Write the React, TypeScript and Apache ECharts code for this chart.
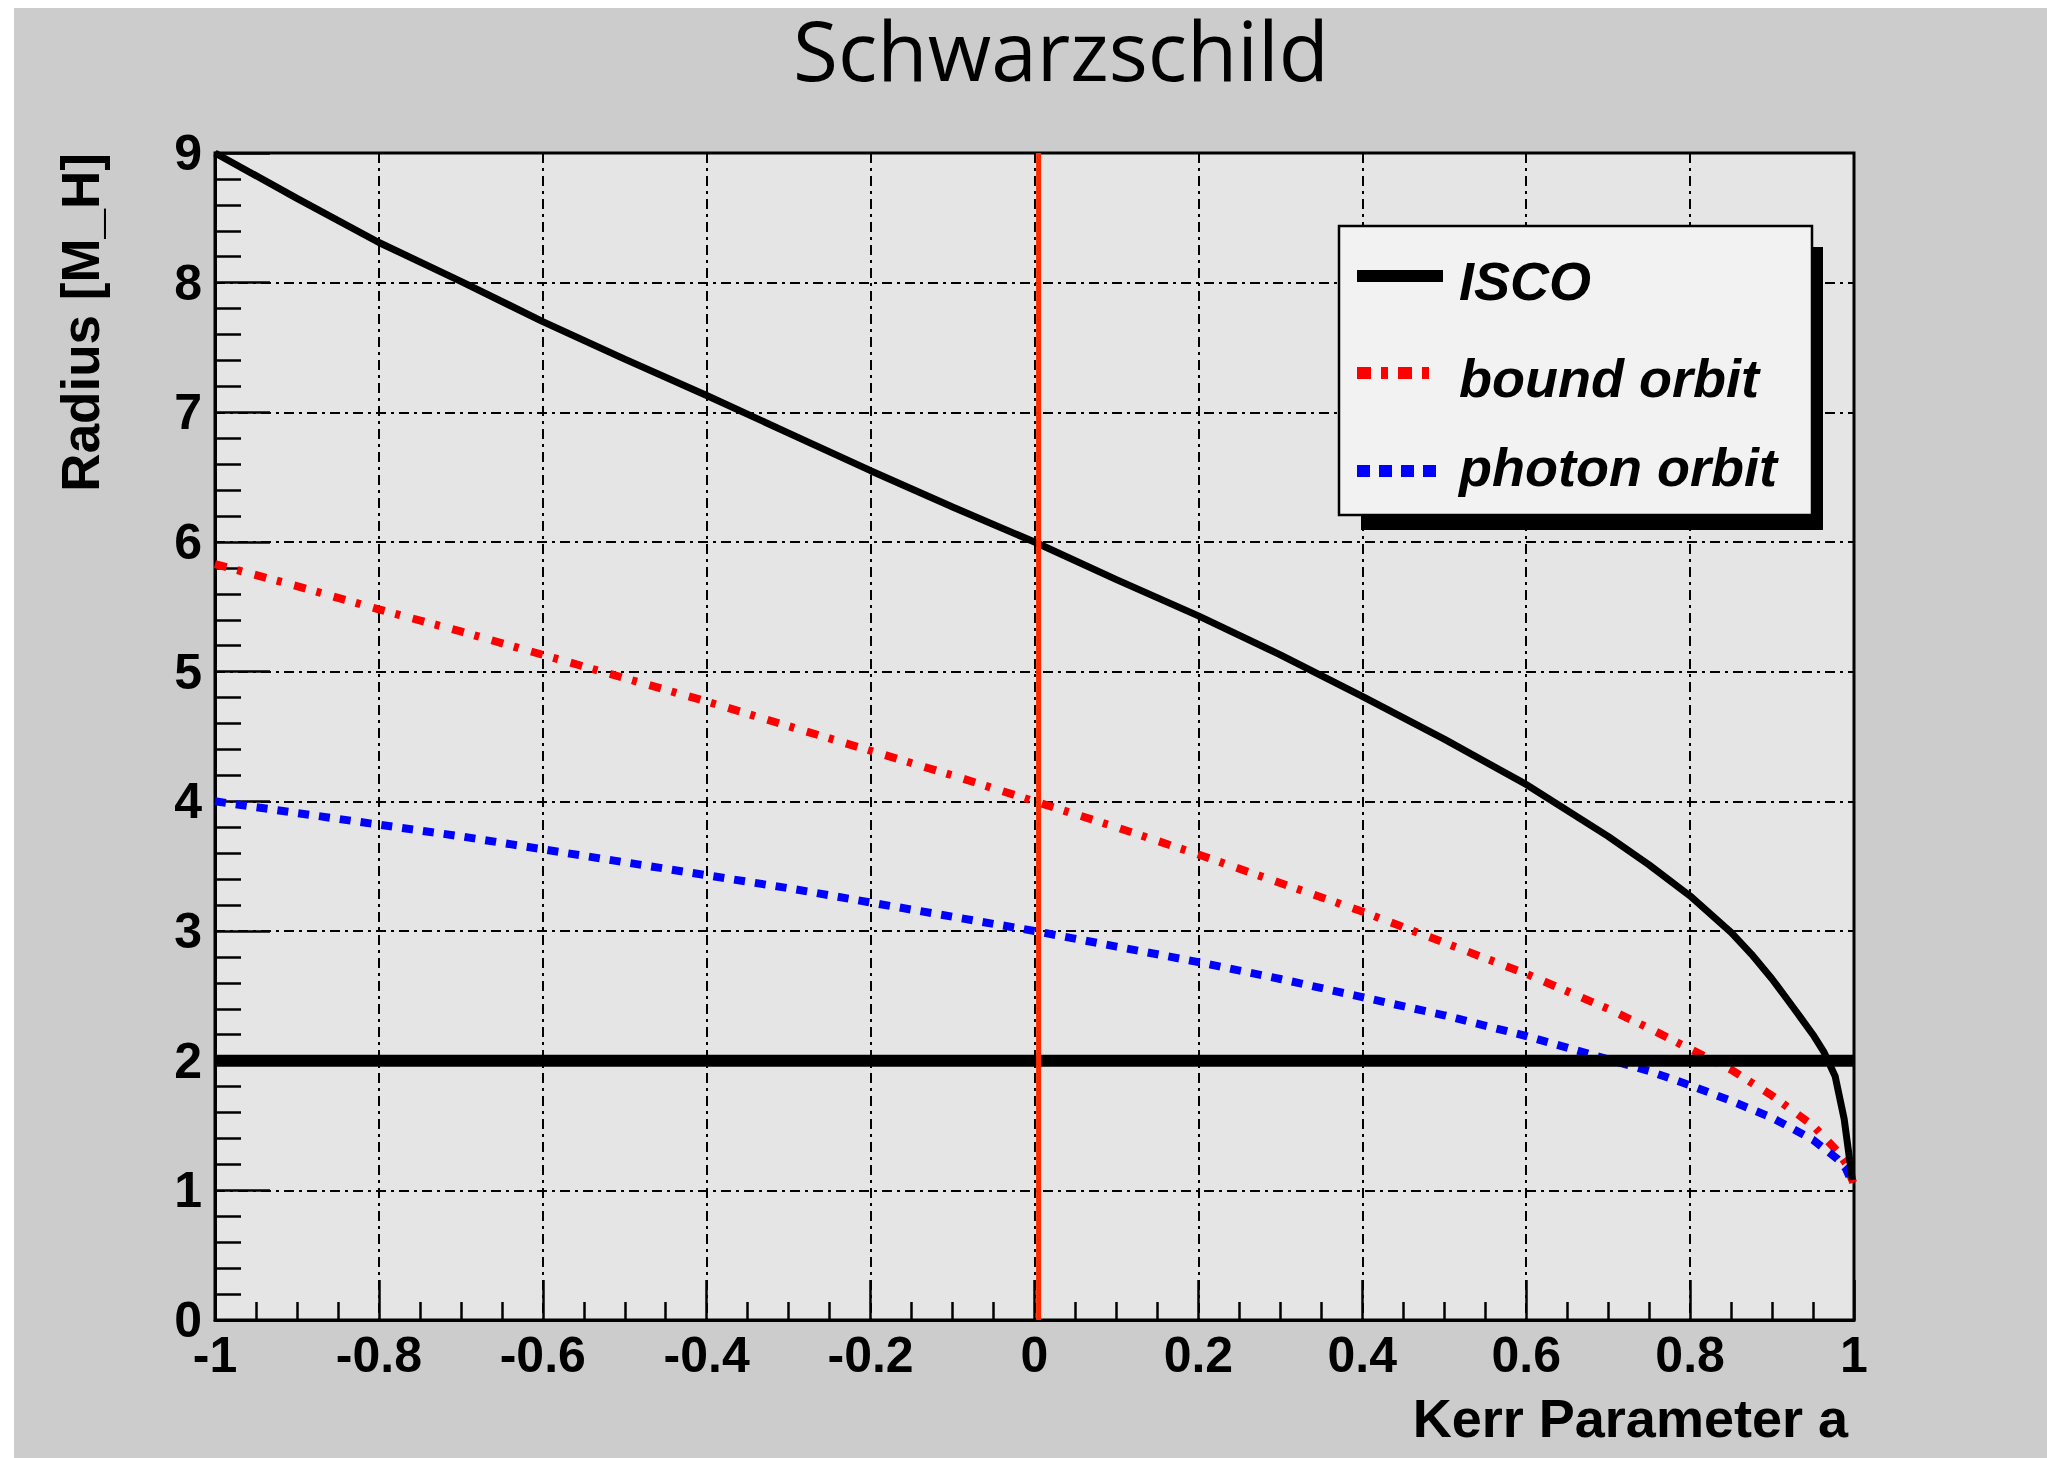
import React, { useEffect, useRef } from "react";
import * as echarts from "echarts";

// Kerr parameter samples shared by the bound-orbit and photon-orbit curves
const kerrA = [-1, -0.9, -0.8, -0.7, -0.6, -0.5, -0.4, -0.3, -0.2, -0.1, 0, 0.1, 0.2, 0.3, 0.4, 0.5, 0.6, 0.7, 0.75, 0.8, 0.85, 0.9, 0.95, 0.98, 0.99, 0.999];
const boundOrbit = [5.83, 5.66, 5.48, 5.31, 5.13, 4.95, 4.77, 4.58, 4.39, 4.2, 4.0, 3.8, 3.59, 3.37, 3.15, 2.91, 2.67, 2.4, 2.25, 2.09, 1.93, 1.73, 1.5, 1.3, 1.21, 1.06];
const photonOrbit = [4.0, 3.91, 3.82, 3.73, 3.63, 3.53, 3.43, 3.33, 3.22, 3.11, 3.0, 2.88, 2.76, 2.63, 2.49, 2.35, 2.19, 2.01, 1.92, 1.81, 1.69, 1.56, 1.39, 1.24, 1.17, 1.04];

// ISCO curve
const iscoA = [-1, -0.9, -0.8, -0.7, -0.6, -0.5, -0.4, -0.3, -0.2, -0.1, 0, 0.1, 0.2, 0.3, 0.4, 0.5, 0.6, 0.7, 0.75, 0.8, 0.85, 0.875, 0.9, 0.92, 0.934, 0.95, 0.963, 0.977, 0.988, 0.998];
const iscoR = [9.0, 8.65, 8.31, 8.01, 7.7, 7.41, 7.13, 6.84, 6.55, 6.27, 6.0, 5.71, 5.43, 5.13, 4.81, 4.48, 4.13, 3.73, 3.51, 3.27, 2.99, 2.82, 2.63, 2.46, 2.34, 2.2, 2.07, 1.88, 1.55, 1.08];

// horizon line at r = 2 and the vertical marker near a = 0
const horizonA = [-1, 1];
const horizonR = [2, 2];
const markerA = [0.005, 0.005];
const markerR = [0, 9];

const xTickLabels = ["-1", "-0.8", "-0.6", "-0.4", "-0.2", "0", "0.2", "0.4", "0.6", "0.8", "1"];
const yTickLabels = ["0", "1", "2", "3", "4", "5", "6", "7", "8", "9"];
const legendNames = ["ISCO", "bound orbit", "photon orbit"];

const F = "Liberation Sans";

export default function App() {
  const ref = useRef<HTMLDivElement>(null);
  useEffect(() => {
    const chart = echarts.init(ref.current!, null, { renderer: "svg" });
    const pairs = (xs: number[], ys: number[]) => xs.map((x, i) => [x, ys[i]]);
    const tickLine = { color: "#000", width: 2.5 };
    const labelStyle = { fontFamily: F, fontWeight: "bold" as const, fontSize: 50, color: "#000" };
    const legendTextY = [273, 370, 459];
    const option: any = {
      animation: false,
      backgroundColor: "#cccccc",
      grid: {
        left: 201, top: 145, width: 1639, height: 1167,
        show: true, backgroundColor: "#e5e5e5", borderColor: "#000", borderWidth: 3,
      },
      xAxis: {
        type: "value", min: -1, max: 1, interval: 0.2,
        axisLine: { show: true, onZero: false, lineStyle: { color: "#000", width: 3 } },
        axisTick: { show: true, inside: true, length: 40, lineStyle: tickLine },
        minorTick: { show: true, splitNumber: 4, length: 18, lineStyle: tickLine },
        axisLabel: { ...labelStyle, margin: 10, formatter: (v: number) => xTickLabels[Math.round((v + 1) / 0.2)] },
        splitLine: { show: true, lineStyle: { color: "#000", width: 2, type: [10, 5, 3, 5] } },
      },
      yAxis: {
        type: "value", min: 0, max: 9, interval: 1,
        axisLine: { show: true, onZero: false, lineStyle: { color: "#000", width: 3 } },
        axisTick: { show: true, inside: true, length: 55, lineStyle: tickLine },
        minorTick: { show: true, splitNumber: 5, length: 26, lineStyle: tickLine },
        axisLabel: { ...labelStyle, margin: 13, formatter: (v: number) => yTickLabels[Math.round(v)] },
        splitLine: { show: true, lineStyle: { color: "#000", width: 2, type: [10, 5, 3, 5] } },
      },
      series: [
        {
          name: legendNames[1], type: "line", data: pairs(kerrA, boundOrbit), showSymbol: false, symbol: "none", silent: true,
          lineStyle: { color: "#ff0000", width: 8, type: [12, 11, 5, 13], cap: "butt" },
        },
        {
          name: legendNames[2], type: "line", data: pairs(kerrA, photonOrbit), showSymbol: false, symbol: "none", silent: true,
          lineStyle: { color: "#0000ff", width: 8, type: [11, 10], cap: "butt" },
        },
        {
          name: legendNames[0], type: "line", data: pairs(iscoA, iscoR), showSymbol: false, symbol: "none", silent: true,
          lineStyle: { color: "#000", width: 7 },
        },
        {
          name: "horizon", type: "line", data: pairs(horizonA, horizonR), showSymbol: false, symbol: "none", silent: true,
          lineStyle: { color: "#000", width: 12 },
        },
        {
          name: "a = 0", type: "line", data: pairs(markerA, markerR), showSymbol: false, symbol: "none", silent: true,
          lineStyle: { color: "#ff2a00", width: 5 },
        },
      ],
      graphic: [
        {
          type: "text", x: 1047, y: 41,
          style: { text: "Schwarzschild", fontFamily: "Open Sans", fontSize: 82, lineHeight: 72, fill: "#000", align: "center", verticalAlign: "middle" },
        },
        {
          type: "text", x: 1834, y: 1410,
          style: { text: "Kerr Parameter a", fontFamily: F, fontWeight: "bold", fontSize: 54, fill: "#000", align: "right", verticalAlign: "middle" },
        },
        {
          type: "text", x: 66, y: 145, rotation: Math.PI / 2,
          style: { text: "Radius [M_H]", fontFamily: F, fontWeight: "bold", fontSize: 53, fill: "#000", align: "right", verticalAlign: "middle" },
        },
        { type: "rect", z: 3, shape: { x: 1347, y: 239, width: 462, height: 283 }, style: { fill: "#000" } },
        { type: "rect", z: 3, shape: { x: 1325, y: 218, width: 473, height: 289 }, style: { fill: "#f2f2f2", stroke: "#000", lineWidth: 2.5 } },
        { type: "line", z: 4, shape: { x1: 1343, y1: 268, x2: 1429, y2: 268 }, style: { stroke: "#000", lineWidth: 12 } },
        { type: "line", z: 4, shape: { x1: 1343, y1: 365, x2: 1416, y2: 365 }, style: { stroke: "#ff0000", lineWidth: 12, lineDash: [14, 10, 7, 10] } },
        { type: "line", z: 4, shape: { x1: 1343, y1: 463, x2: 1423, y2: 463 }, style: { stroke: "#0000ff", lineWidth: 12, lineDash: [13, 9] } },
        ...legendNames.map((n, i) => ({
          type: "text", z: 4, x: 1445, y: legendTextY[i],
          style: { text: n, fontFamily: F, fontWeight: "bold", fontStyle: "italic", fontSize: 54, fill: "#000", align: "left", verticalAlign: "middle" },
        })),
      ],
    };
    chart.setOption(option);
    return () => chart.dispose();
  }, []);
  return (
    <div style={{ position: "absolute", left: 0, top: 0, width: 2047, height: 1458, background: "#fff", overflow: "hidden" }}>
      <div ref={ref} style={{ position: "absolute", left: 14, top: 8, width: 2033, height: 1450 }} />
    </div>
  );
}
